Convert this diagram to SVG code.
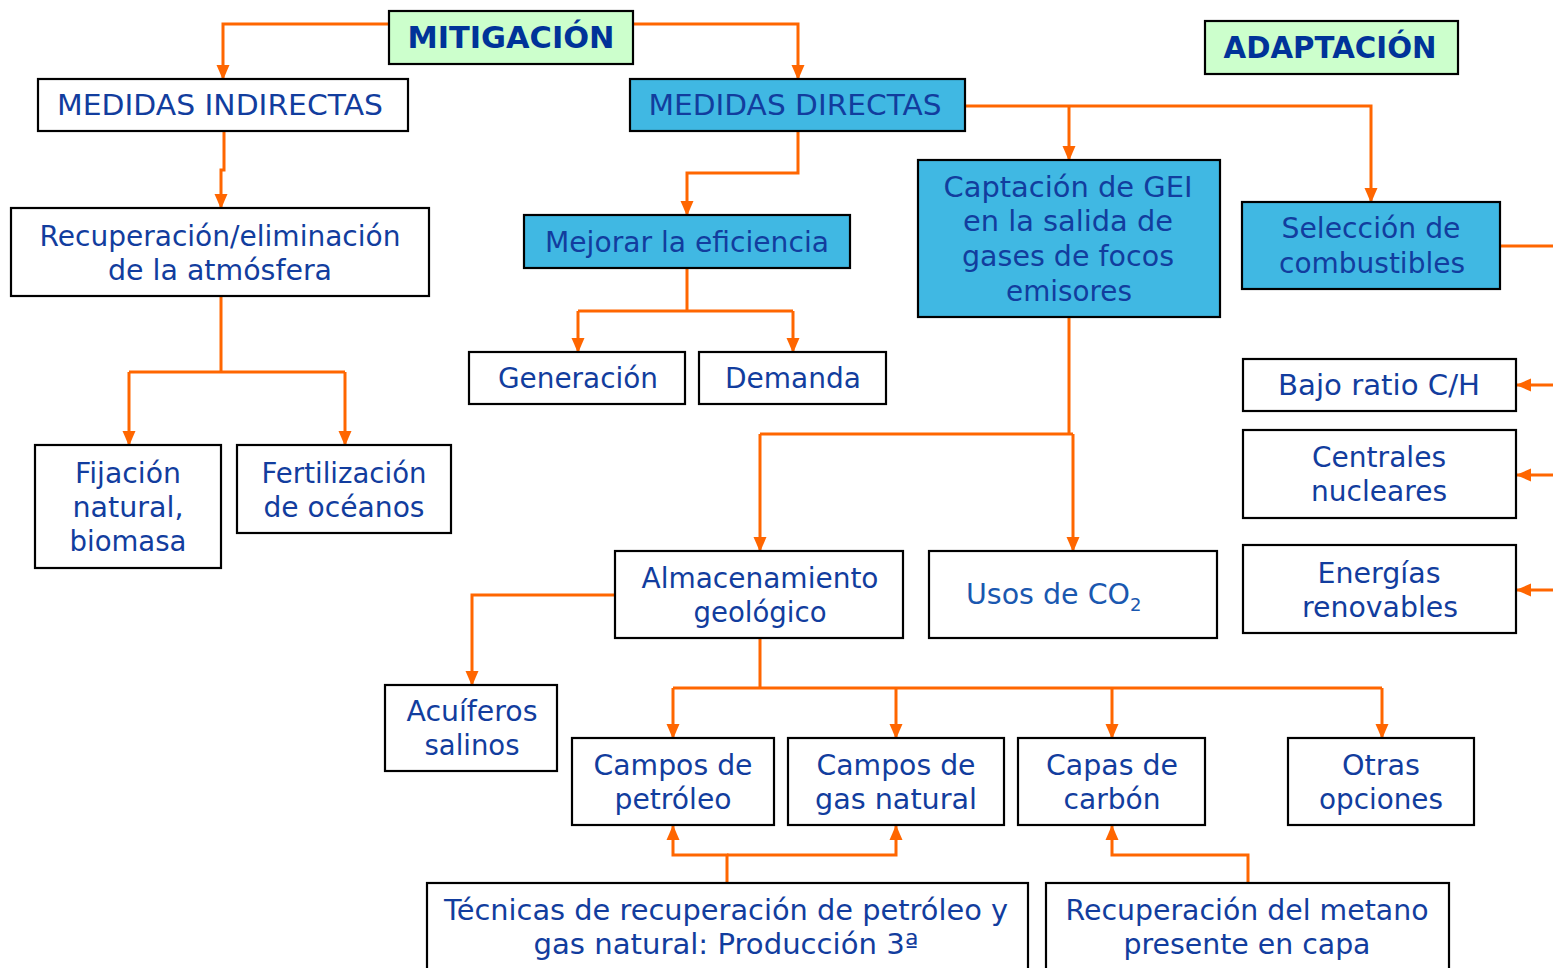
<svg xmlns="http://www.w3.org/2000/svg" width="1553" height="968" viewBox="0 0 1553 968">
<defs>
<marker id="ah" markerUnits="userSpaceOnUse" markerWidth="15" markerHeight="15" viewBox="0 0 15 15" refX="14" refY="7.5" orient="auto">
<path d="M0,1 L15,7.5 L0,14 Z" fill="#ff6600"/>
</marker>
<style>
.b{stroke:#000;stroke-width:2.2;fill:#fff}
.g{fill:#ccffcc}
.c{fill:#40b8e3}
.t{font-family:"DejaVu Sans",Verdana,sans-serif;font-size:28px;fill:#123d9e;text-anchor:middle}
.h{font-family:"DejaVu Sans",Verdana,sans-serif;font-size:30px;font-weight:bold;fill:#003399;text-anchor:middle}
.l{fill:none;stroke:#ff6600;stroke-width:3}
.a{marker-end:url(#ah)}
</style>
</defs>
<g id="connectors">
<path class="l a" d="M389,24 H223 V79"/>
<path class="l a" d="M633,24 H798 V79"/>
<path class="l a" d="M224,131 V170 H221 V208"/>
<path class="l" d="M221,296 V372 M129,372 H345"/>
<path class="l a" d="M129,372 V445"/>
<path class="l a" d="M345,372 V445"/>
<path class="l a" d="M798,131 V173 H687 V215"/>
<path class="l" d="M687,268 V311 M578,311 H793"/>
<path class="l a" d="M578,311 V352"/>
<path class="l a" d="M793,311 V352"/>
<path class="l a" d="M965,106 H1371 V202"/>
<path class="l a" d="M1069,106 V160"/>
<path class="l" d="M1500,246 H1553"/>
<path class="l a" d="M1553,385 H1517"/>
<path class="l a" d="M1553,475 H1517"/>
<path class="l a" d="M1553,590 H1517"/>
<path class="l" d="M1069,317 V434 M760,434 H1073"/>
<path class="l a" d="M760,434 V551"/>
<path class="l a" d="M1073,434 V551"/>
<path class="l a" d="M615,595 H472 V685"/>
<path class="l" d="M760,638 V688 M673,688 H1382"/>
<path class="l a" d="M673,688 V738"/>
<path class="l a" d="M896,688 V738"/>
<path class="l a" d="M1112,688 V738"/>
<path class="l a" d="M1382,688 V738"/>
<path class="l a" d="M727,883 V855 H673 V826"/>
<path class="l a" d="M727,855 H896 V826"/>
<path class="l a" d="M1248,883 V855 H1112 V826"/>
</g>
<g id="mitigacion"><rect class="b g" x="389" y="11" width="244" height="53"/><text class="h" x="511" y="48" textLength="207" lengthAdjust="spacingAndGlyphs">MITIGACIÓN</text></g>
<g id="adaptacion"><rect class="b g" x="1205" y="21" width="253" height="53"/><text class="h" x="1330" y="58" textLength="213" lengthAdjust="spacingAndGlyphs">ADAPTACIÓN</text></g>
<g id="indirectas"><rect class="b" x="38" y="79" width="370" height="52"/><text class="t" x="220" y="115" textLength="326" lengthAdjust="spacingAndGlyphs">MEDIDAS INDIRECTAS</text></g>
<g id="directas"><rect class="b c" x="630" y="79" width="335" height="52"/><text class="t" x="795" y="115" textLength="293" lengthAdjust="spacingAndGlyphs">MEDIDAS DIRECTAS</text></g>
<g id="recuperacion"><rect class="b" x="11" y="208" width="418" height="88"/><text class="t" x="220" y="246" textLength="361" lengthAdjust="spacingAndGlyphs">Recuperación/eliminación</text><text class="t" x="220" y="280" textLength="224" lengthAdjust="spacingAndGlyphs">de la atmósfera</text></g>
<g id="fijacion"><rect class="b" x="35" y="445" width="186" height="123"/><text class="t" x="128" y="483" textLength="106" lengthAdjust="spacingAndGlyphs">Fijación</text><text class="t" x="128" y="517" textLength="111" lengthAdjust="spacingAndGlyphs">natural,</text><text class="t" x="128" y="551" textLength="117" lengthAdjust="spacingAndGlyphs">biomasa</text></g>
<g id="fertilizacion"><rect class="b" x="237" y="445" width="214" height="88"/><text class="t" x="344" y="483" textLength="165" lengthAdjust="spacingAndGlyphs">Fertilización</text><text class="t" x="344" y="517" textLength="161" lengthAdjust="spacingAndGlyphs">de océanos</text></g>
<g id="mejorar"><rect class="b c" x="524" y="215" width="326" height="53"/><text class="t" x="687" y="252" textLength="284" lengthAdjust="spacingAndGlyphs">Mejorar la eficiencia</text></g>
<g id="generacion"><rect class="b" x="469" y="352" width="216" height="52"/><text class="t" x="578" y="388" textLength="160" lengthAdjust="spacingAndGlyphs">Generación</text></g>
<g id="demanda"><rect class="b" x="699" y="352" width="187" height="52"/><text class="t" x="793" y="388" textLength="136" lengthAdjust="spacingAndGlyphs">Demanda</text></g>
<g id="captacion"><rect class="b c" x="918" y="160" width="302" height="157"/><text class="t" x="1068" y="197" textLength="249" lengthAdjust="spacingAndGlyphs">Captación de GEI</text><text class="t" x="1068" y="231" textLength="210" lengthAdjust="spacingAndGlyphs">en la salida de</text><text class="t" x="1068" y="266" textLength="212" lengthAdjust="spacingAndGlyphs">gases de focos</text><text class="t" x="1069" y="301" textLength="126" lengthAdjust="spacingAndGlyphs">emisores</text></g>
<g id="seleccion"><rect class="b c" x="1242" y="202" width="258" height="87"/><text class="t" x="1371" y="238" textLength="179" lengthAdjust="spacingAndGlyphs">Selección de</text><text class="t" x="1372" y="273" textLength="186" lengthAdjust="spacingAndGlyphs">combustibles</text></g>
<g id="bajo"><rect class="b" x="1243" y="359" width="273" height="52"/><text class="t" x="1379" y="395" textLength="202" lengthAdjust="spacingAndGlyphs">Bajo ratio C/H</text></g>
<g id="centrales"><rect class="b" x="1243" y="430" width="273" height="88"/><text class="t" x="1379" y="467" textLength="134" lengthAdjust="spacingAndGlyphs">Centrales</text><text class="t" x="1379" y="501" textLength="136" lengthAdjust="spacingAndGlyphs">nucleares</text></g>
<g id="energias"><rect class="b" x="1243" y="545" width="273" height="88"/><text class="t" x="1379" y="583" textLength="123" lengthAdjust="spacingAndGlyphs">Energías</text><text class="t" x="1380" y="617" textLength="156" lengthAdjust="spacingAndGlyphs">renovables</text></g>
<g id="almacenamiento"><rect class="b" x="615" y="551" width="288" height="87"/><text class="t" x="760" y="588" textLength="237" lengthAdjust="spacingAndGlyphs">Almacenamiento</text><text class="t" x="760" y="622" textLength="133" lengthAdjust="spacingAndGlyphs">geológico</text></g>
<g id="usos"><rect class="b" x="929" y="551" width="288" height="87"/><text x="966" y="604" font-family="DejaVu Sans, Verdana, sans-serif" font-size="28" fill="#1a58b0"><tspan textLength="164" lengthAdjust="spacingAndGlyphs">Usos de CO</tspan><tspan font-size="18" dy="7">2</tspan></text></g>
<g id="acuiferos"><rect class="b" x="385" y="685" width="172" height="86"/><text class="t" x="472" y="721" textLength="131" lengthAdjust="spacingAndGlyphs">Acuíferos</text><text class="t" x="472" y="755" textLength="95" lengthAdjust="spacingAndGlyphs">salinos</text></g>
<g id="petroleo"><rect class="b" x="572" y="738" width="202" height="87"/><text class="t" x="673" y="775" textLength="159" lengthAdjust="spacingAndGlyphs">Campos de</text><text class="t" x="673" y="809" textLength="117" lengthAdjust="spacingAndGlyphs">petróleo</text></g>
<g id="gas"><rect class="b" x="788" y="738" width="216" height="87"/><text class="t" x="896" y="775" textLength="159" lengthAdjust="spacingAndGlyphs">Campos de</text><text class="t" x="896" y="809" textLength="162" lengthAdjust="spacingAndGlyphs">gas natural</text></g>
<g id="carbon"><rect class="b" x="1018" y="738" width="187" height="87"/><text class="t" x="1112" y="775" textLength="132" lengthAdjust="spacingAndGlyphs">Capas de</text><text class="t" x="1112" y="809" textLength="97" lengthAdjust="spacingAndGlyphs">carbón</text></g>
<g id="otras"><rect class="b" x="1288" y="738" width="186" height="87"/><text class="t" x="1381" y="775" textLength="78" lengthAdjust="spacingAndGlyphs">Otras</text><text class="t" x="1381" y="809" textLength="124" lengthAdjust="spacingAndGlyphs">opciones</text></g>
<g id="tecnicas"><rect class="b" x="427" y="883" width="601" height="100"/><text class="t" x="726" y="920" textLength="564" lengthAdjust="spacingAndGlyphs">Técnicas de recuperación de petróleo y</text><text class="t" x="726" y="954" textLength="385" lengthAdjust="spacingAndGlyphs">gas natural: Producción 3ª</text></g>
<g id="metano"><rect class="b" x="1046" y="883" width="403" height="100"/><text class="t" x="1247" y="920" textLength="363" lengthAdjust="spacingAndGlyphs">Recuperación del metano</text><text class="t" x="1247" y="954" textLength="247" lengthAdjust="spacingAndGlyphs">presente en capa</text></g>
</svg>
